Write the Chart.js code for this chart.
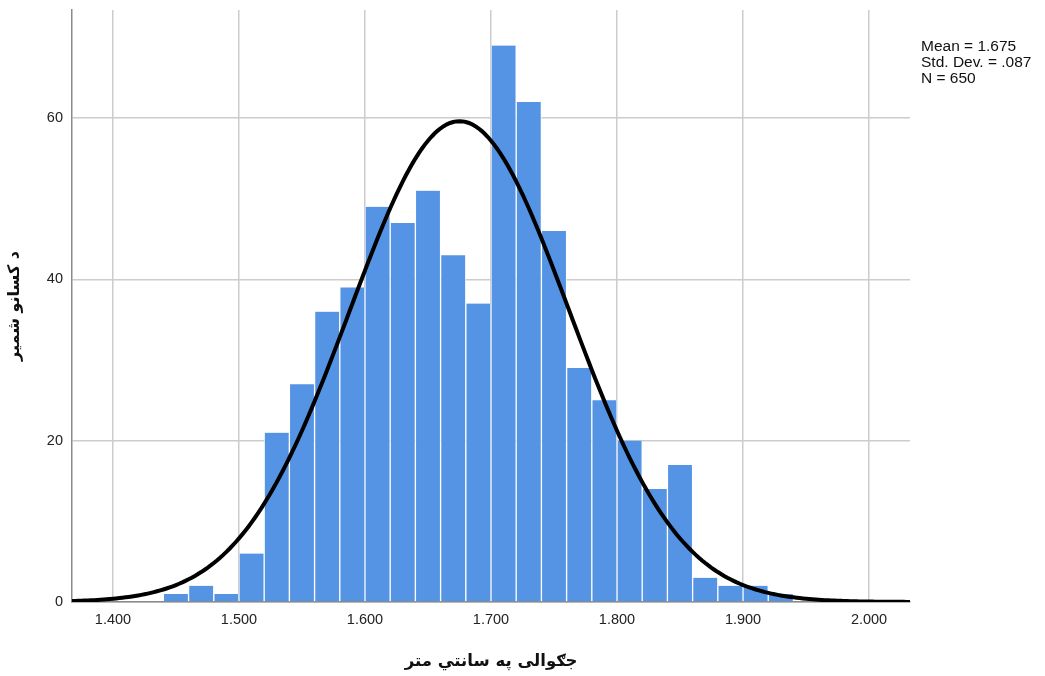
<!DOCTYPE html>
<html>
<head>
<meta charset="utf-8">
<script src="https://cdn.jsdelivr.net/npm/chart.js@4/dist/chart.umd.min.js"></script>
<style>
html,body{margin:0;padding:0;background:#fff;}
#wrap{width:1045px;height:676px;}
</style>
</head>
<body>
<div id="wrap"><canvas id="c" width="1045" height="676"></canvas></div>
<script>
// Histogram bins (lower edge of each 0.02 wide bin) and counts
const binStarts = [1.44,1.46,1.48,1.50,1.52,1.54,1.56,1.58,1.60,1.62,1.64,1.66,1.68,1.70,1.72,1.74,1.76,1.78,1.80,1.82,1.84,1.86,1.88,1.90,1.92];
const counts    = [1,2,1,6,21,27,36,39,49,47,51,43,37,69,62,46,29,25,20,14,17,3,2,2,1];
const BIN_WIDTH = 0.02;
// Stated statistics
const MEAN = 1.675;
const SD = 0.087;
const N = 650;
const statsLines = ["Mean = 1.675", "Std. Dev. = .087", "N = 650"];
// Axes
const xTicks = [1.4,1.5,1.6,1.7,1.8,1.9,2.0];
const xTickLabels = ["1.400","1.500","1.600","1.700","1.800","1.900","2.000"];
const yTicks = [0,20,40,60];
const X_MIN = 1.3675, X_MAX = 2.0325, Y_MAX = 73.4;
const xTitle = "جګوالی په سانتي متر";
const yTitle = "د کسانو شمیر";

const barData = binStarts.map((s,i)=>({x: s + BIN_WIDTH/2, y: counts[i]}));
// Fitted normal curve from stated mean, sd and N
const curve = [];
for (let k=0;k<=266;k++){
  const x = X_MIN + (X_MAX-X_MIN)*k/266;
  const z = (x-MEAN)/SD;
  curve.push({x, y: N*BIN_WIDTH*Math.exp(-0.5*z*z)/(SD*Math.sqrt(2*Math.PI))});
}

const FONT = "'Liberation Sans', Arial, sans-serif";

const statsPlugin = {
  id:'stats',
  afterDraw(chart){
    const ctx = chart.ctx;
    ctx.save();
    ctx.font = "15.5px " + FONT;
    ctx.fillStyle = "#111";
    ctx.textAlign = "left";
    ctx.textBaseline = "middle";
    statsLines.forEach((t,i)=>ctx.fillText(t, 921, 47 + i*16));
    ctx.restore();
  }
};
const bgPlugin = {
  id:'bg',
  beforeDraw(chart){
    const ctx = chart.ctx;
    ctx.save(); ctx.fillStyle='#fff'; ctx.fillRect(0,0,chart.width,chart.height); ctx.restore();
  }
};

new Chart(document.getElementById('c'), {
  type:'bar',
  data:{
    datasets:[
      {type:'line', data:curve, borderColor:'#000', borderWidth:4, pointRadius:0, fill:false, tension:0, order:0},
      {type:'bar', data:barData, backgroundColor:'#5594E4', borderColor:'rgba(255,255,255,0.75)', borderWidth:{left:1,right:1,top:0,bottom:0}, barPercentage:1, categoryPercentage:1, order:1}
    ]
  },
  options:{
    responsive:false,
    animation:false,
    devicePixelRatio:1,
    layout:{padding:{top:10,right:135,left:0,bottom:0}},
    plugins:{legend:{display:false}, tooltip:{enabled:false}},
    scales:{
      x:{
        type:'linear', min:X_MIN, max:X_MAX, offset:false,
        afterBuildTicks(s){ s.ticks = xTicks.map(v=>({value:v})); },
        afterFit(s){ s.height = 74; s.paddingLeft = 0; s.paddingRight = 0; },
        ticks:{ callback:(v)=>{ const i = xTicks.findIndex(t=>Math.abs(t-v)<1e-9); return i>=0 ? xTickLabels[i] : ''; }, color:'#222', font:{family:FONT, size:14.5}, padding:9, maxRotation:0, autoSkip:false },
        grid:{ color:'#cccccc', lineWidth:1.5, drawTicks:false, offset:false },
        border:{ color:'#8a8a8a', width:1.5 },
        title:{ display:true, text:xTitle, color:'#111', font:{family:"'DejaVu Sans', "+FONT, size:16.5, weight:'bold'}, padding:{top:0,bottom:4} }
      },
      y:{
        type:'linear', min:0, max:Y_MAX,
        afterBuildTicks(s){ s.ticks = yTicks.map(v=>({value:v})); },
        afterFit(s){ s.width = 72; s.paddingTop = 0; s.paddingBottom = 0; },
        ticks:{ color:'#222', font:{family:FONT, size:14.5}, padding:9 },
        grid:{ color:'#cccccc', lineWidth:1.5, drawTicks:false },
        border:{ color:'#8a8a8a', width:1.5 },
        title:{ display:true, text:yTitle, color:'#111', font:{family:"'DejaVu Sans', "+FONT, size:16, weight:'bold'}, padding:{top:5,bottom:0} }
      }
    }
  },
  plugins:[bgPlugin, statsPlugin]
});
</script>
</body>
</html>
